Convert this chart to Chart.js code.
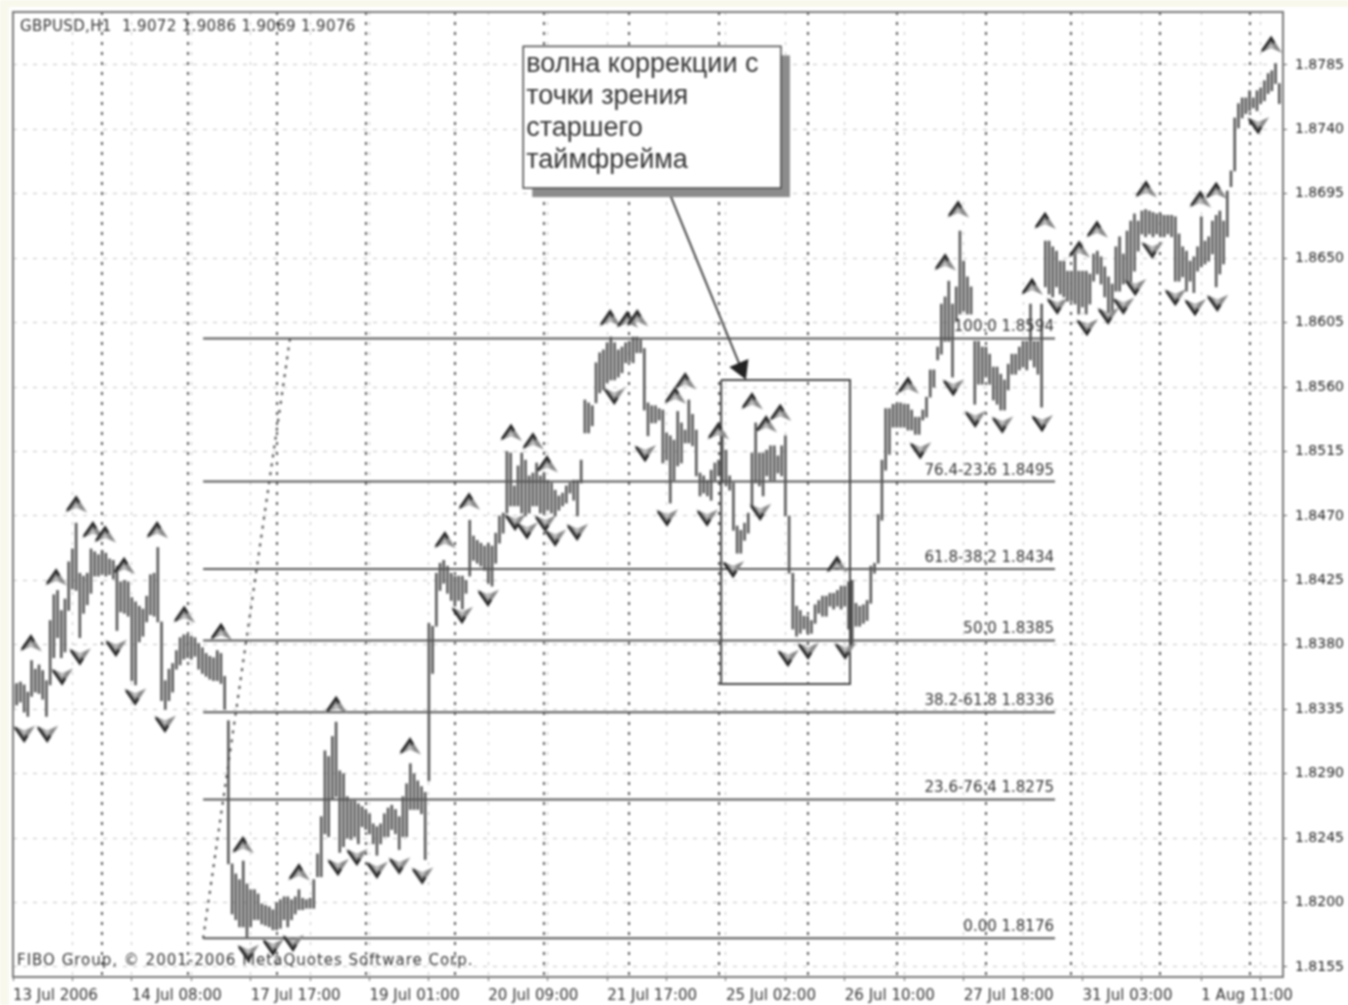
<!DOCTYPE html>
<html>
<head>
<meta charset="utf-8">
<title>GBPUSD,H1</title>
<script src="https://cdn.jsdelivr.net/npm/chart.js@4"></script>
<style>
html, body { margin: 0; background: #fff; }
#wrap { width: 1348px; height: 1005px; overflow: hidden; }
#myChart { display: block; filter: blur(0.8px); }
</style>
</head>
<body>
<div id="wrap"><canvas id="myChart" width="1348" height="1005"></canvas></div>
<script>
// hourly bars, one high and one low per bar
var highs = [
1.8352,1.8353,1.8354,1.8352,1.8347,1.8369,1.8363,1.8366,1.8362,1.8355,
1.8397,1.8415,1.8418,1.8404,1.8412,1.8438,1.8447,1.8465,1.8430,1.8428,
1.8430,1.8447,1.8445,1.8443,1.8446,1.8444,1.8440,1.8439,1.8435,1.8424,
1.8425,1.8424,1.8413,1.8410,1.8407,1.8405,1.8414,1.8429,1.8430,1.8448,
1.8396,1.8355,1.8363,1.8367,1.8376,1.8385,1.8387,1.8387,1.8386,1.8385,
1.8381,1.8378,1.8374,1.8372,1.8371,1.8376,1.8374,1.8358,1.8327,1.8227,
1.8220,1.8216,1.8229,1.8213,1.8209,1.8209,1.8206,1.8199,1.8198,1.8197,
1.8195,1.8200,1.8202,1.8204,1.8204,1.8202,1.8204,1.8209,1.8203,1.8202,
1.8203,1.8216,1.8234,1.8260,1.8306,1.8302,1.8316,1.8326,1.8292,1.8290,
1.8274,1.8271,1.8271,1.8269,1.8267,1.8265,1.8262,1.8255,1.8253,1.8255,
1.8262,1.8266,1.8268,1.8265,1.8260,1.8274,1.8283,1.8297,1.8290,1.8285,
1.8281,1.8277,1.8395,1.8393,1.8430,1.8437,1.8439,1.8435,1.8430,1.8428,
1.8428,1.8428,1.8425,1.8467,1.8456,1.8453,1.8451,1.8449,1.8451,1.8449,
1.8458,1.8470,1.8472,1.8515,1.8514,1.8491,1.8505,1.8514,1.8509,1.8498,
1.8500,1.8507,1.8498,1.8500,1.8495,1.8493,1.8488,1.8484,1.8486,1.8491,
1.8493,1.8495,1.8495,1.8509,1.8551,1.8549,1.8547,1.8577,1.8584,1.8586,
1.8591,1.8595,1.8591,1.8586,1.8588,1.8591,1.8592,1.8595,1.8595,1.8593,
1.8587,1.8549,1.8547,1.8547,1.8545,1.8544,1.8528,1.8526,1.8523,1.8543,
1.8535,1.8530,1.8551,1.8541,1.8530,1.8500,1.8498,1.8495,1.8502,1.8507,
1.8509,1.8528,1.8516,1.8498,1.8493,1.8463,1.8460,1.8465,1.8472,1.8514,
1.8535,1.8514,1.8514,1.8516,1.8519,1.8519,1.8512,1.8519,1.8526,1.8470,
1.8430,1.8407,1.8404,1.8400,1.8400,1.8397,1.8408,1.8411,1.8414,1.8414,
1.8416,1.8416,1.8418,1.8421,1.8421,1.8424,1.8425,1.8409,1.8407,1.8408,
1.8411,1.8435,1.8437,1.8471,1.8509,1.8545,1.8545,1.8548,1.8548,1.8549,
1.8548,1.8548,1.8544,1.8539,1.8539,1.8544,1.8553,1.8572,1.8572,1.8588,
1.8618,1.8623,1.8634,1.8618,1.8630,1.8669,1.8648,1.8637,1.8630,1.8592,
1.8592,1.8588,1.8588,1.8583,1.8574,1.8574,1.8569,1.8565,1.8576,1.8583,
1.8583,1.8588,1.8592,1.8592,1.8618,1.8592,1.8592,1.8618,1.8662,1.8662,
1.8658,1.8655,1.8648,1.8648,1.8641,1.8641,1.8655,1.8641,1.8641,1.8641,
1.8639,1.8653,1.8655,1.8651,1.8644,1.8637,1.8632,1.8658,1.8665,1.8653,
1.8669,1.8676,1.8681,1.8676,1.8683,1.8684,1.8683,1.8682,1.8681,1.8681,
1.8680,1.8680,1.8680,1.8679,1.8667,1.8658,1.8655,1.8648,1.8651,1.8658,
1.8679,1.8662,1.8665,1.8676,1.8680,1.8683,1.8676,1.8697,1.8711,1.8748,
1.8758,1.8762,1.8762,1.8767,1.8762,1.8767,1.8769,1.8774,1.8779,1.8781,
1.8786,1.8772
];
var lows = [
1.8336,1.8338,1.8340,1.8333,1.8330,1.8344,1.8347,1.8346,1.8342,1.8330,
1.8352,1.8371,1.8385,1.8371,1.8375,1.8404,1.8419,1.8418,1.8385,1.8402,
1.8408,1.8416,1.8428,1.8428,1.8430,1.8428,1.8429,1.8426,1.8390,1.8403,
1.8402,1.8400,1.8355,1.8352,1.8382,1.8386,1.8396,1.8401,1.8400,1.8396,
1.8341,1.8335,1.8341,1.8347,1.8363,1.8366,1.8370,1.8371,1.8370,1.8372,
1.8363,1.8360,1.8358,1.8356,1.8355,1.8355,1.8353,1.8335,1.8227,1.8192,
1.8188,1.8183,1.8183,1.8176,1.8183,1.8188,1.8188,1.8185,1.8184,1.8183,
1.8181,1.8181,1.8182,1.8188,1.8183,1.8188,1.8192,1.8195,1.8195,1.8196,
1.8196,1.8196,1.8218,1.8218,1.8248,1.8246,1.8272,1.8274,1.8235,1.8239,
1.8245,1.8244,1.8246,1.8241,1.8253,1.8251,1.8248,1.8241,1.8233,1.8241,
1.8246,1.8246,1.8251,1.8248,1.8237,1.8246,1.8246,1.8265,1.8265,1.8265,
1.8262,1.8230,1.8285,1.8360,1.8393,1.8418,1.8423,1.8416,1.8411,1.8407,
1.8411,1.8405,1.8416,1.8428,1.8439,1.8437,1.8435,1.8432,1.8423,1.8421,
1.8437,1.8451,1.8458,1.8472,1.8477,1.8477,1.8477,1.8472,1.8470,1.8472,
1.8477,1.8477,1.8472,1.8472,1.8474,1.8472,1.8470,1.8474,1.8477,1.8479,
1.8486,1.8481,1.8470,1.8493,1.8528,1.8528,1.8533,1.8549,1.8556,1.8558,
1.8563,1.8565,1.8565,1.8567,1.8570,1.8577,1.8578,1.8577,1.8584,1.8584,
1.8544,1.8526,1.8535,1.8535,1.8537,1.8507,1.8509,1.8479,1.8495,1.8505,
1.8507,1.8521,1.8521,1.8519,1.8498,1.8484,1.8486,1.8484,1.8481,1.8495,
1.8498,1.8493,1.8491,1.8488,1.8460,1.8444,1.8444,1.8453,1.8458,1.8477,
1.8493,1.8491,1.8484,1.8498,1.8495,1.8495,1.8500,1.8498,1.8470,1.8430,
1.8391,1.8386,1.8388,1.8391,1.8388,1.8388,1.8395,1.8402,1.8400,1.8400,
1.8407,1.8405,1.8407,1.8405,1.8407,1.8391,1.8379,1.8393,1.8393,1.8395,
1.8397,1.8409,1.8430,1.8437,1.8467,1.8502,1.8513,1.8532,1.8532,1.8532,
1.8532,1.8530,1.8530,1.8527,1.8527,1.8537,1.8539,1.8553,1.8560,1.8579,
1.8583,1.8592,1.8592,1.8567,1.8606,1.8611,1.8613,1.8611,1.8611,1.8548,
1.8562,1.8562,1.8567,1.8562,1.8551,1.8548,1.8544,1.8544,1.8558,1.8569,
1.8569,1.8572,1.8574,1.8572,1.8579,1.8574,1.8569,1.8546,1.8630,1.8625,
1.8623,1.8630,1.8625,1.8623,1.8620,1.8620,1.8618,1.8611,1.8616,1.8611,
1.8618,1.8634,1.8639,1.8632,1.8623,1.8611,1.8613,1.8627,1.8627,1.8632,
1.8634,1.8630,1.8641,1.8655,1.8667,1.8665,1.8667,1.8665,1.8667,1.8665,
1.8665,1.8667,1.8665,1.8634,1.8634,1.8637,1.8627,1.8634,1.8626,1.8641,
1.8644,1.8646,1.8648,1.8653,1.8630,1.8639,1.8646,1.8665,1.8700,1.8711,
1.8741,1.8748,1.8751,1.8753,1.8755,1.8753,1.8758,1.8760,1.8765,1.8767,
1.8772,1.8758
];

// fractal marks: bar position and price of each mark
var upAt = [4.8,11.6,17,21.5,24.8,29.9,38.8,46.1,56,61.9,77,87,106.9,116.3,122.8,134.1,140,143.8,160.8,165.4,168.1,178.3,181,189.9,199,202.8,206.6,221.9,241,251,254.5,274.4,277.9,287.1,291.9,305.1,319.7,324,338.8];
var upPrice = [1.8381,1.8427,1.8478,1.8460,1.8457,1.8435,1.8460,1.8401,1.8389,1.8240,1.8221,1.8338,1.8309,1.8453,1.8480,1.8528,1.8522,1.8506,1.8608,1.8607,1.8608,1.8554,1.8564,1.8529,1.8550,1.8534,1.8542,1.8436,1.8561,1.8647,1.8684,1.8630,1.8676,1.8656,1.8670,1.8698,1.8691,1.8697,1.8799];
var downAt = [3,9.2,13.2,18,27.7,32.9,40.9,63.3,70,75.4,87.5,92.6,98,104,110.2,120.9,127.9,135.2,138.4,143.3,146,151.9,161.9,170.2,176.1,186.9,193.9,201.2,208.7,214.1,224.1,244.3,253.2,259.1,266.4,277.1,281.2,289.2,294.9,299,302.2,306.8,313,318.3,324.3,335.3];
var downPrice = [1.8318,1.8318,1.8358,1.8372,1.8378,1.8344,1.8325,1.8165,1.8169,1.8172,1.8225,1.8232,1.8223,1.8226,1.8219,1.8401,1.8413,1.8466,1.8460,1.8465,1.8455,1.8459,1.8554,1.8514,1.8469,1.8469,1.8433,1.8473,1.8371,1.8376,1.8376,1.8516,1.8560,1.8538,1.8534,1.8535,1.8617,1.8602,1.8610,1.8617,1.8630,1.8656,1.8623,1.8616,1.8619,1.8743];

var fiboCaptions = ['100.0 1.8594', '76.4-23.6 1.8495', '61.8-38.2 1.8434', '50.0 1.8385', '38.2-61.8 1.8336', '23.6-76.4 1.8275', '0.00 1.8176'];
var fiboLevels = [1.8594, 1.8494, 1.8433, 1.8383, 1.8333, 1.8272, 1.8175];
var fiboFrom = 51.2;
var fiboTo = 280.6;

// axes
var yTicks = [1.8155,1.8200,1.8245,1.8290,1.8335,1.8380,1.8425,1.8470,1.8515,1.8560,1.8605,1.8650,1.8695,1.8740,1.8785];
var xLabels = ['13 Jul 2006','14 Jul 08:00','17 Jul 17:00','19 Jul 01:00','20 Jul 09:00','21 Jul 17:00','25 Jul 02:00','26 Jul 10:00','27 Jul 18:00','31 Jul 03:00','1 Aug 11:00'];
var labelStep = 32;
var lightStep = 16;
var daySeparators = [24,47,71,95,119,143,166,190,214,238,262,285,309,333];
var lastBar = 342;

var noteLines = ['волна коррекции с', 'точки зрения', 'старшего', 'таймфрейма'];
var title = 'GBPUSD,H1  1.9072 1.9086 1.9069 1.9076';
var copyright = 'FIBO Group, © 2001-2006 MetaQuotes Software Corp.';

var textFont = '"DejaVu Sans"';
var barData = highs.map(function(h, i) { return {x: i, y: [lows[i], h]}; });

function makeMarker(up) {
    var c = document.createElement('canvas');
    c.width = 24; c.height = 20;
    var g = c.getContext('2d');
    if (!up) { g.translate(0, 20); g.scale(1, -1); }
    // pale inside, dark left leg, thinner right leg
    g.fillStyle = '#888';
    g.beginPath();
    g.moveTo(12, 1); g.lineTo(23, 18); g.lineTo(12, 13); g.lineTo(1, 18);
    g.closePath();
    g.fill();
    g.fillStyle = '#ccc';
    g.beginPath();
    g.moveTo(12, 9); g.lineTo(16, 14); g.lineTo(12, 12); g.lineTo(8, 14);
    g.closePath();
    g.fill();
    g.strokeStyle = '#222';
    g.lineWidth = 2.5;
    g.beginPath();
    g.moveTo(3, 16); g.lineTo(12, 3); g.lineTo(15, 8);
    g.stroke();
    return c;
}

var datasets = [];
fiboLevels.forEach(function(level) {
    datasets.push({
        type: 'line',
        data: [{x: fiboFrom, y: level}, {x: fiboTo, y: level}],
        borderColor: '#555',
        borderWidth: 2,
        pointRadius: 0,
        order: 3
    });
});
// fibo base line
datasets.push({
    type: 'line',
    data: [{x: 51.2, y: 1.8175}, {x: 74.6, y: 1.8594}],
    borderColor: '#444',
    borderWidth: 2,
    borderDash: [3, 6],
    pointRadius: 0,
    order: 3
});
// region box
datasets.push({
    type: 'line',
    data: [{x: 190.7, y: 1.8565}, {x: 225.4, y: 1.8565}, {x: 225.4, y: 1.83527}, {x: 190.7, y: 1.83527}, {x: 190.7, y: 1.8565}],
    borderColor: '#444',
    borderWidth: 2,
    pointRadius: 0,
    order: 2
});
// arrow from the note to the box
datasets.push({
    type: 'line',
    data: [{x: 176.4, y: 1.8698}, {x: 196.1, y: 1.8573}],
    borderColor: '#444',
    borderWidth: 2,
    pointStyle: 'triangle',
    pointRadius: [0, 10],
    pointRotation: [0, 157],
    pointBackgroundColor: '#222',
    pointBorderColor: '#222',
    order: 2
});
datasets.push({
    type: 'bar',
    data: barData,
    backgroundColor: '#555',
    barThickness: 1.9,
    grouped: false,
    order: 4
});
datasets.push({
    type: 'scatter',
    data: upAt.map(function(x, i) { return {x: x, y: upPrice[i]}; }),
    pointStyle: makeMarker(true),
    order: 1
});
datasets.push({
    type: 'scatter',
    data: downAt.map(function(x, i) { return {x: x, y: downPrice[i]}; }),
    pointStyle: makeMarker(false),
    order: 1
});

var extras = {
    id: 'extras',
    beforeDraw: function(chart) {
        var ctx = chart.ctx;
        ctx.save();
        ctx.fillStyle = '#f9f8ec';
        ctx.fillRect(0, 0, chart.width, chart.height);
        ctx.fillStyle = '#fff';
        ctx.fillRect(9, 7, chart.width - 9, chart.height - 7);
        ctx.restore();
    },
    afterDraw: function(chart) {
        var ctx = chart.ctx, a = chart.chartArea, xs = chart.scales.x, ys = chart.scales.y;
        ctx.save();
        ctx.strokeStyle = '#777';
        ctx.lineWidth = 2;
        ctx.strokeRect(a.left, a.top, a.right - a.left, a.bottom - a.top);

        ctx.fillStyle = '#333';
        ctx.textBaseline = 'middle';
        ctx.textAlign = 'left';
        ctx.font = '15px ' + textFont;
        ctx.letterSpacing = '0.35px';
        ctx.fillText(title, 20, 27);
        ctx.letterSpacing = '1px';
        ctx.fillText(copyright, 17, 961);
        ctx.letterSpacing = '0px';

        ctx.textAlign = 'right';
        fiboLevels.forEach(function(level, i) {
            ctx.fillText(fiboCaptions[i], xs.getPixelForValue(fiboTo) - 1, ys.getPixelForValue(level) - 11);
        });

        // note box with its shadow
        var left = xs.getPixelForValue(137.4), right = xs.getPixelForValue(206.8);
        var top = ys.getPixelForValue(1.8798), bottom = ys.getPixelForValue(1.8699);
        ctx.fillStyle = '#8c8c8c';
        ctx.fillRect(left + 9, top + 9, right - left, bottom - top);
        ctx.fillStyle = '#fff';
        ctx.fillRect(left, top, right - left, bottom - top);
        ctx.strokeStyle = '#444';
        ctx.lineWidth = 1.5;
        ctx.strokeRect(left, top, right - left, bottom - top);
        ctx.fillStyle = '#333';
        ctx.textAlign = 'left';
        ctx.font = '27px "Liberation Sans"';
        noteLines.forEach(function(line, i) {
            ctx.fillText(line, left + 3, top + 18 + i * 32);
        });
        ctx.restore();
    }
};

var ctx = document.getElementById('myChart').getContext('2d');
var myChart = new Chart(ctx, {
    data: { datasets: datasets },
    plugins: [extras],
    options: {
        responsive: false,
        animation: false,
        layout: { padding: { left: 13, top: 12, right: 0, bottom: 0 } },
        plugins: {
            legend: { display: false },
            tooltip: { enabled: false }
        },
        scales: {
            x: {
                type: 'linear',
                offset: false,
                min: 0,
                max: lastBar,
                afterBuildTicks: function(scale) {
                    var values = daySeparators.slice();
                    for (var v = 0; v <= lastBar; v += lightStep) values.push(v);
                    values.sort(function(a, b) { return a - b; });
                    scale.ticks = values.map(function(v) { return {value: v}; });
                },
                afterFit: function(scale) {
                    scale.height = 28;
                    scale.paddingLeft = 0;
                    scale.paddingRight = 0;
                },
                ticks: {
                    autoSkip: false,
                    maxRotation: 0,
                    align: 'start',
                    padding: 6,
                    color: '#333',
                    font: { family: 'DejaVu Sans', size: 15 },
                    callback: function(value) {
                        if (value % labelStep === 0) return xLabels[value / labelStep] || '';
                        return '';
                    }
                },
                grid: {
                    offset: false,
                    color: function(c) {
                        if (c.tick && c.tick.value % lightStep === 0) return '#c4c4c4';
                        return '#555';
                    },
                    lineWidth: function(c) {
                        if (c.tick && c.tick.value % lightStep === 0) return 1;
                        return 2;
                    },
                    tickColor: function(c) {
                        if (c.tick && c.tick.value % lightStep === 0) return '#666';
                        return 'rgba(0,0,0,0)';
                    },
                    tickLength: 4
                },
                border: { color: '#777', width: 2, dash: [3, 7] }
            },
            y: {
                type: 'linear',
                position: 'right',
                min: 1.8148,
                max: 1.8822,
                afterBuildTicks: function(scale) {
                    scale.ticks = yTicks.map(function(v) { return {value: v}; });
                },
                afterFit: function(scale) {
                    scale.width = 65;
                    scale.paddingTop = 0;
                    scale.paddingBottom = 0;
                },
                ticks: {
                    padding: 8,
                    color: '#222',
                    font: { family: 'DejaVu Sans', size: 14 },
                    callback: function(value) { return value.toFixed(4); }
                },
                grid: { color: '#c4c4c4', lineWidth: 1, tickColor: '#555', tickLength: 4 },
                border: { color: '#777', width: 2, dash: [4, 6] }
            }
        }
    }
});
</script>
</body>
</html>
